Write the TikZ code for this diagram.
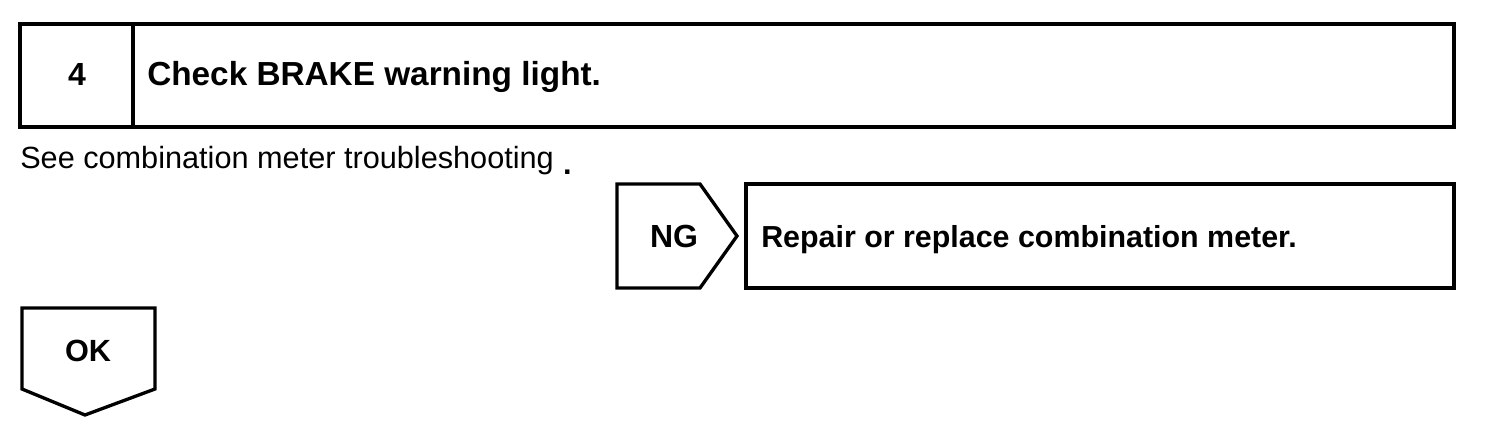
\documentclass[tikz,border=0pt]{standalone}
\usepackage{fontspec}
\setmainfont{Liberation Sans}
\begin{document}
\begin{tikzpicture}[x=0.75pt,y=-0.75pt,
  frame/.style={draw=black,line width=2.5pt,line join=miter},
  boldtxt/.style={font=\fontsize{23}{26}\selectfont\bfseries,anchor=base west,inner sep=0pt},
  plaintxt/.style={font=\fontsize{23}{26}\selectfont,anchor=base west,inner sep=0pt}]
\useasboundingbox (0,0) rectangle (1504,438);
% top box
\draw[frame] (20,24) rectangle (1454,127);
\draw[frame] (133,24) -- (133,127);
\node[boldtxt,anchor=base,font=\fontsize{24}{27}\selectfont\bfseries] (num) at (77,86) {4};
\node[boldtxt,font=\fontsize{25}{28}\selectfont\bfseries] (title) at (147,86) {Check BRAKE warning light.};
\node[plaintxt] (see) at (20,169) {See combination meter troubleshooting\hspace{7pt}\raisebox{-4pt}{\bfseries .}};
% NG pentagon
\draw[frame] (617,184) -- (700,184) -- (737,236) -- (700,288) -- (617,288) -- cycle;
\node[boldtxt,anchor=base,font=\fontsize{24}{27}\selectfont\bfseries] (ng) at (674,248) {NG};
% repair box
\draw[frame] (746,184) rectangle (1454,288);
\node[boldtxt,font=\fontsize{22.8}{26}\selectfont\bfseries] (repair) at (761,248) {Repair or replace combination meter.};
% OK pentagon
\draw[frame] (22,308) -- (155,308) -- (155,389) -- (85,415) -- (22,389) -- cycle;
\node[boldtxt,anchor=base] (ok) at (88,362) {OK};
\end{tikzpicture}
\end{document}
